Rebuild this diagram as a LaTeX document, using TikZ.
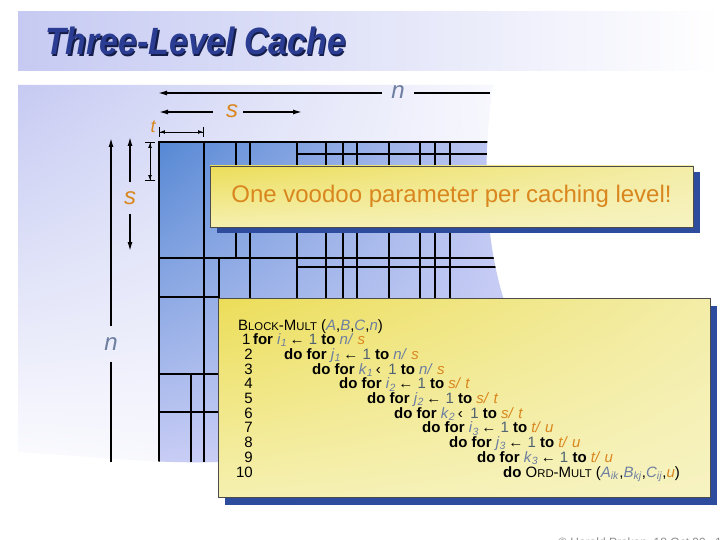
\documentclass[tikz,border=0pt]{standalone}
\usepackage{fontspec}
\setmainfont{Liberation Sans}
\newfontfamily\ttlfont[FakeStretch=0.89]{Liberation Sans}
\usetikzlibrary{arrows.meta,shadows,shadings}
\definecolor{orng}{HTML}{D9861E}
\definecolor{varc}{HTML}{6D7EA0}
\definecolor{onec}{HTML}{4F6272}
\definecolor{shblue}{HTML}{2E4C9E}
\definecolor{ttlblue}{HTML}{2B3D92}
\definecolor{ttlshadow}{HTML}{141C48}
\definecolor{bandc}{HTML}{C6CAF2}
\definecolor{yA}{HTML}{ECDD58}
\definecolor{yB}{HTML}{F3EDA8}
\definecolor{yC}{HTML}{F5F0B0}
\definecolor{yD}{HTML}{F7F3C2}
\newcommand\codefont{\fontsize{15}{16}\selectfont}
\newcommand\fsc[2]{#1{\fontsize{11.3}{12}\selectfont #2}}
\newcommand\vv[1]{\textcolor{varc}{\textit{#1}}}
\newcommand\vs[2]{\textcolor{varc}{\textit{#1}\textsubscript{\textit{#2}}}}
\newcommand\os[1]{\textcolor{orng}{\textit{#1}}}
\newcommand\kw[1]{\textbf{#1}}
\newcommand\one{\textcolor{onec}{1}}
\begin{document}
\begin{tikzpicture}[x=1pt,y=-1pt,
  thickgrid/.style={line width=2.8pt},
  medgrid/.style={line width=2pt},
  thingrid/.style={line width=1.1pt},
  dimarrow/.style={line width=1.4pt,-{Latex[length=9pt,width=5pt]}},
  dimline/.style={line width=1.4pt},
  tarrow/.style={line width=0.9pt,{Bar[width=10pt]Latex[length=5pt,width=4pt]}-{Latex[length=5pt,width=4pt]Bar[width=10pt]}},
  lbl/.style={inner sep=1pt,font=\fontsize{24}{24}\selectfont\itshape},
  ybox/.style={draw=black!70,line width=0.6pt,inner sep=0pt,
     upper left=yA,upper right=yB,lower left=yC,lower right=yD},
  codeline/.style={anchor=base west,inner sep=0pt,font=\codefont,text height=10.5pt,text depth=2.5pt},
  numline/.style={anchor=base east,inner sep=0pt,font=\codefont,text height=10.5pt,text depth=2.5pt},
  ttlstyle/.style={anchor=west,inner sep=0pt,font=\ttlfont\fontsize{38}{38}\selectfont\bfseries\itshape},
]
\useasboundingbox (0,0) rectangle (720,540);
\fill[white] (0,0) rectangle (720,540);
% title band
\shade[left color=bandc,right color=white] (18,12) rectangle (720,71);
\node[ttlstyle,text=ttlshadow] (ttlsh) at (46.5,42.5) {Three-Level Cache};
\node[ttlstyle,text=ttlblue] (ttl) at (45,41) {Three-Level Cache};
% main background and grid, clipped to the curled page
\begin{scope}
\clip (18,85) -- (493,85) .. controls (483,150) and (483,235) .. (504,300) -- (504,470) -- (218,470) -- (218,462)
   .. controls (150,464) and (90,456) .. (18,452) -- cycle;
\shade[upper left=bandc,upper right=white!90!bandc,lower left=white!95!bandc,lower right=white!75!bandc] (18,85) rectangle (510,470);
\shade[upper left={rgb,255:red,86;green,136;blue,212},upper right={rgb,255:red,196;green,202;blue,244},
       lower left={rgb,255:red,200;green,205;blue,245},lower right={rgb,255:red,206;green,209;blue,246}] (159,142) rectangle (510,462);
% thick block lines
\draw[thickgrid] (159,142) -- (159,462);
\draw[thickgrid] (158,142) -- (510,142);
\draw[thickgrid] (297,142) -- (297,462);
\draw[thickgrid] (435,142) -- (435,462);
\draw[thickgrid] (159,258) -- (510,258);
\draw[thickgrid] (159,374) -- (510,374);
\draw[medgrid] (389,142) -- (389,462);
% thin lines
\draw[thingrid] (204,142) -- (204,462);
\draw[thingrid] (236,142) -- (236,258);
\draw[thingrid] (250,142) -- (250,374);
\draw[thingrid] (219,258) -- (219,374);
\draw[thingrid] (191,374) -- (191,462);
\draw[thingrid] (326,142) -- (326,462);
\draw[thingrid] (343,142) -- (343,462);
\draw[thingrid] (357,142) -- (357,462);
\draw[thingrid] (420,142) -- (420,462);
\draw[thingrid] (450,142) -- (450,462);
\draw[thingrid] (297,154) -- (510,154);
\draw[thingrid] (297,267) -- (510,267);
\draw[thingrid] (159,297) -- (219,297);
\draw[thingrid] (159,412) -- (219,412);
\end{scope}
% dimension labels
\node[lbl,text=varc] (nH) at (398,92) {n};
\node[lbl,text=orng] (sH) at (232,111) {s};
\node[inner sep=0pt,text=orng,font=\fontsize{18}{18}\selectfont\itshape] (tH) at (153,127) {t};
\node[lbl,text=orng] (sV) at (130,198) {s};
\node[lbl,text=varc] (nV) at (111,344) {n};
\coordinate (nHl) at (158,93);
\coordinate (nHr) at (490,93);
\coordinate (sHl) at (159,112);
\coordinate (sHr) at (302,112);
\coordinate (tHl) at (159,132);
\coordinate (tHr) at (204,132);
\coordinate (tVt) at (150,142);
\coordinate (tVb) at (150,181);
\coordinate (sVt) at (130,137);
\coordinate (sVb) at (130,251);
\coordinate (nVt) at (111,138);
\coordinate (nVb) at (111,462);
\draw[dimarrow] (nH.west) ++(-8,1) -- (nHl);
\draw[dimline] (nH.east) ++(8,1) -- (nHr);
\draw[dimarrow] (sH.west) ++(-12,1) -- (sHl);
\draw[dimarrow] (sH.east) ++(4,1) -- (sHr);
\draw[tarrow] (tHl) -- (tHr);
\draw[tarrow] (tVt) -- (tVb);
\draw[dimarrow] (sV.north) ++(0,-8) -- (sVt);
\draw[dimarrow] (sV.south) ++(0,8) -- (sVb);
\draw[dimarrow] (nV.north) ++(0,-10) -- (nVt);
\draw[dimline] (nV.south) ++(0,10) -- (nVb);
% callout 1
\node[ybox,minimum width=483pt,minimum height=61pt,
  drop shadow={shadow xshift=7pt,shadow yshift=-6pt,opacity=1,fill=shblue},
  text=orng,font=\fontsize{24}{24}\selectfont] (voodoo) at (451.5,196.5) {One voodoo parameter per caching level!};
% callout 2
\node[ybox,minimum width=492pt,minimum height=199pt,
  drop shadow={shadow xshift=7pt,shadow yshift=-8pt,opacity=1,fill=shblue}] (code) at (464,397.5) {};
\node[codeline] (c0) at (238,330) {\fsc{B}{LOCK}-\fsc{M}{ULT} (\vv{A},\vv{B},\vv{C},\vv{n})};
\node[codeline] (c1) at (242,344.7) {1\,\kw{for} \vs{i}{1}\,← \one{} \kw{to} \vv{n/} \os{s}};
\node[numline] (n2) at (253,359.4) {2};
\node[codeline] (c2) at (284,359.4) {\kw{do for} \vs{j}{1}\,← \one{} \kw{to} \vv{n/} \os{s}};
\node[numline] (n3) at (253,374.1) {3};
\node[codeline] (c3) at (312,374.1) {\kw{do for} \vs{k}{1}\,‹\enspace\one{} \kw{to} \vv{n/} \os{s}};
\node[numline] (n4) at (253,388.8) {4};
\node[codeline] (c4) at (339,388.8) {\kw{do for} \vs{i}{2}\,← \one{} \kw{to} \os{s/} \os{t}};
\node[numline] (n5) at (253,403.5) {5};
\node[codeline] (c5) at (367,403.5) {\kw{do for} \vs{j}{2}\,← \one{} \kw{to} \os{s/} \os{t}};
\node[numline] (n6) at (253,418.2) {6};
\node[codeline] (c6) at (394,418.2) {\kw{do for} \vs{k}{2}\,‹\enspace\one{} \kw{to} \os{s/} \os{t}};
\node[numline] (n7) at (253,432.9) {7};
\node[codeline] (c7) at (422,432.9) {\kw{do for} \vs{i}{3}\,← \one{} \kw{to} \os{t/} \os{u}};
\node[numline] (n8) at (253,447.6) {8};
\node[codeline] (c8) at (449,447.6) {\kw{do for} \vs{j}{3}\,← \one{} \kw{to} \os{t/} \os{u}};
\node[numline] (n9) at (253,462.3) {9};
\node[codeline] (c9) at (477,462.3) {\kw{do for} \vs{k}{3}\,← \one{} \kw{to} \os{t/} \os{u}};
\node[numline] (n10) at (253,477) {10};
\node[codeline] (c10) at (503,477) {\kw{do} \fsc{O}{RD}-\fsc{M}{ULT} (\vs{A}{ik},\vs{B}{kj},\vs{C}{ij},\os{u})};
% footer (cut by the page edge, as in the reference)
\node[anchor=base west,inner sep=0pt,text=black!45,font=\fontsize{12}{12}\selectfont] (foot) at (558,546) {© Harald Prokop, 18 Oct 99};
\node[anchor=base east,inner sep=0pt,text=black!45,font=\fontsize{12}{12}\selectfont] (pg) at (722,546) {1};
\end{tikzpicture}
\end{document}
